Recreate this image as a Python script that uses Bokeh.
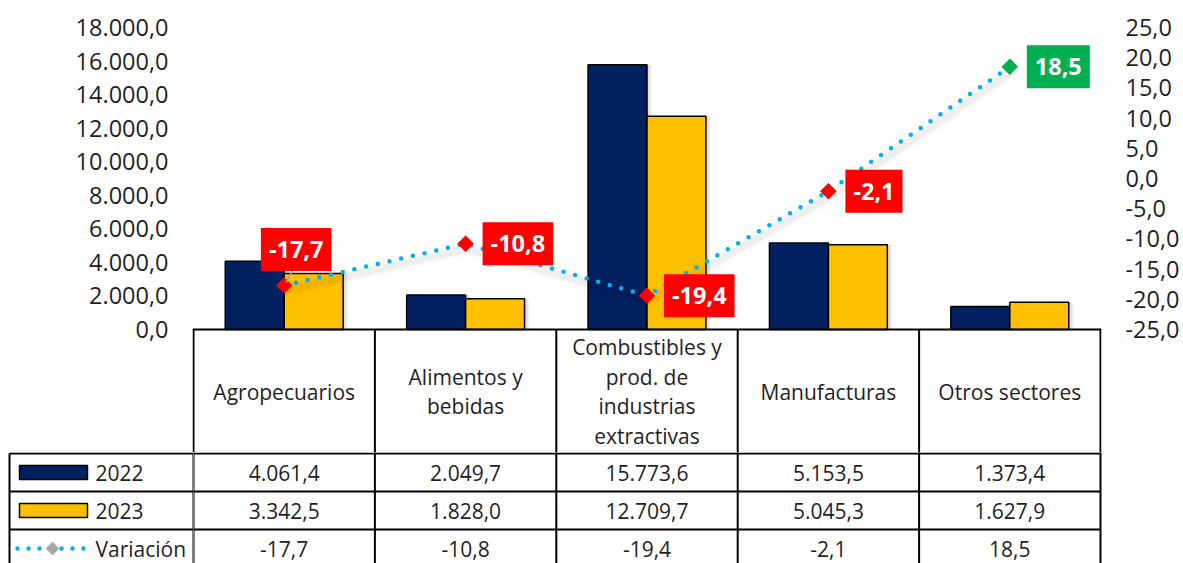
import numpy as np
from bokeh.plotting import figure
from bokeh.models import Range1d, LinearAxis, FixedTicker, Label, Span
from bokeh.layouts import column, row
from bokeh.embed import file_html
from bokeh.resources import INLINE
from bokeh.core.properties import value

# ---------------- data ----------------
categories = ["Agropecuarios", "Alimentos y\nbebidas",
              "Combustibles y\nprod. de\nindustrias\nextractivas",
              "Manufacturas", "Otros sectores"]
values_2022 = [4061.4, 2049.7, 15773.6, 5153.5, 1373.4]
values_2023 = [3342.5, 1828.0, 12709.7, 5045.3, 1627.9]
variacion = [-17.7, -10.8, -19.4, -2.1, 18.5]
series_names = ["2022", "2023", "Variación"]
left_ticks = list(range(0, 18001, 2000))
right_ticks = list(range(-25, 26, 5))


def fmt(v, d=1):
    s = f"{abs(v):,.{d}f}".replace(",", "X").replace(".", ",").replace("X", ".")
    return ("-" if v < 0 else "") + s


# ---------------- style / layout ----------------
NAVY = "#002060"
GOLD = "#FFC000"
BLUE = "#00B0F0"
RED = "#FF0000"
GREEN = "#00B050"
TXT = "#1f1f1f"
FONT = "Open Sans"

W, H = 1183, 563
FL, FR, FT, FB = 193, 1100, 27, 329        # value area in page pixels
N = len(categories)
UNIT = (FR - FL) / N                         # px per category
HP = 452                                     # top figure: chart + header row
H2 = H - HP
LEFT_MAX = 18000
VAR_LO, VAR_HI = -25, 25
PX_L = (FB - FT) / LEFT_MAX
PX_VAR = (FB - FT) / (VAR_HI - VAR_LO)


def yl(sy):           # page pixel -> left-axis value
    return (FB - sy) / PX_L


def yv(sy):           # page pixel -> right-axis value
    return VAR_LO + (FB - sy) / PX_VAR


xc = np.arange(N) + 0.5
bar_w = 0.325

p = figure(width=W, height=HP, x_range=Range1d(-1 / UNIT, N + 1 / UNIT),
           y_range=Range1d(yl(HP), LEFT_MAX),
           output_backend="svg", toolbar_location=None,
           x_axis_type=None, y_axis_type=None,
           min_border_left=FL - 1, min_border_right=W - FR - 1,
           min_border_top=FT, min_border_bottom=0)
p.outline_line_color = None
p.background_fill_color = "white"
p.border_fill_color = "white"
p.extra_y_ranges = {"var": Range1d(yv(HP), VAR_HI)}

for rng, ticks, side, so in ((None, left_ticks, "left", 18), ("var", right_ticks, "right", 18)):
    ax = LinearAxis(ticker=FixedTicker(ticks=ticks),
                    major_label_overrides={t: fmt(t) for t in ticks})
    if rng:
        ax.y_range_name = rng
    ax.axis_line_color = None
    ax.major_tick_line_color = None
    ax.minor_tick_line_color = None
    ax.major_label_text_font = FONT
    ax.major_label_text_font_size = "23.5px"
    ax.major_label_text_color = TXT
    ax.major_label_standoff = so
    p.add_layout(ax, side)

# soft shadows for bars
sdx = 3 / UNIT
for k, a in ((0, 0.05), (1, 0.04), (2, 0.03)):
    grow = 2 * k / UNIT
    p.vbar(x=xc - bar_w / 2 + sdx, top=values_2022, width=bar_w + grow,
           fill_color="black", fill_alpha=a, line_color=None)
    p.vbar(x=xc + bar_w / 2 + sdx, top=values_2023, width=bar_w + grow,
           fill_color="black", fill_alpha=a, line_color=None)

p.vbar(x=xc - bar_w / 2, top=values_2022, width=bar_w, fill_color=NAVY,
       line_color="black", line_width=1.5)
p.vbar(x=xc + bar_w / 2, top=values_2023, width=bar_w, fill_color=GOLD,
       line_color="black", line_width=1.5)

# header row of the data table (category axis)
p.add_layout(Span(location=0, dimension="width", line_color="black", line_width=2))
p.segment(x0=list(range(N + 1)), y0=[0] * (N + 1), x1=list(range(N + 1)),
          y1=[yl(HP + 2)] * (N + 1), line_color="black", line_width=2)
p.text(x=xc, y=[yl(391)] * N, text=categories, text_align="center", text_baseline="middle",
       text_font=value(FONT), text_font_size="21px", text_color=TXT, text_line_height=1.07)

# shadow of the line
var = np.array(variacion)
for w, a in ((12, 0.025), (7, 0.04)):
    p.line(x=xc + 2 / UNIT, y=var - 5 / PX_VAR, y_range_name="var",
           line_color="black", line_alpha=a, line_width=w)

p.line(x=xc, y=var, y_range_name="var", line_color=BLUE, line_width=4.5,
       line_dash="0 12", line_cap="round")
mcol = [GREEN if v > 0 else RED for v in variacion]
p.scatter(x=xc, y=var, y_range_name="var", marker="square", angle=np.pi / 4,
          size=11, fill_color=mcol, line_color=mcol)

# data labels
for i, v in enumerate(variacion):
    col = GREEN if v > 0 else RED
    if i == 0:
        lab = Label(x=xc[i], y=v, y_range_name="var", text=fmt(v),
                    x_offset=12, y_offset=36, text_align="center", text_baseline="middle")
        p.segment(x0=[xc[i] + 2 / UNIT], y0=[v + 3 / PX_VAR],
                  x1=[xc[i] + 9 / UNIT], y1=[v + 16 / PX_VAR], y_range_name="var",
                  line_color="#A6A6A6", line_width=1.5)
    else:
        lab = Label(x=xc[i], y=v, y_range_name="var", text=fmt(v),
                    x_offset=17, y_offset=0, text_align="left", text_baseline="middle")
    lab.text_color = "white"
    lab.text_font = FONT
    lab.text_font_style = "bold"
    lab.text_font_size = "23.5px"
    lab.background_fill_color = col
    lab.padding = dict(left=8, right=8, top=13, bottom=13)
    p.add_layout(lab)


# ---------------- table body ----------------
def py(sy):
    return sy - HP


def mk(width, xr):
    f = figure(width=width, height=H2, x_range=xr, y_range=Range1d(H2, 0),
               output_backend="svg", toolbar_location=None,
               x_axis_type=None, y_axis_type=None, min_border=0)
    f.outline_line_color = None
    f.background_fill_color = "white"
    f.border_fill_color = "white"
    return f


L = mk(FL, Range1d(0, FL))                         # legend column, pixel x
T = mk(W - FL, Range1d(0, (W - FL) / UNIT))        # category columns

y_hdr, y_r1, y_r2 = py(453), py(491), py(529)
row_y = [py(472), py(510), py(548)]

T.segment(x0=list(range(N + 1)), y0=[-2] * (N + 1), x1=list(range(N + 1)), y1=[H2 + 2] * (N + 1),
          line_color="black", line_width=2)
T.segment(x0=[0] * 3, y0=[y_hdr, y_r1, y_r2], x1=[N] * 3, y1=[y_hdr, y_r1, y_r2],
          line_color="black", line_width=2)
L.segment(x0=[9, FL, 9, 9, 9], y0=[y_hdr, y_hdr, y_hdr, y_r1, y_r2],
          x1=[9, FL, FL + 1, FL + 1, FL + 1], y1=[H2 + 2, H2 + 2, y_hdr, y_r1, y_r2],
          line_color="black", line_width=2)

rows = [[fmt(v) for v in values_2022], [fmt(v) for v in values_2023],
        [fmt(v) for v in variacion]]
for ry, vals in zip(row_y, rows):
    T.text(x=xc, y=[ry] * N, text=vals, text_align="center", text_baseline="middle",
           text_font=value(FONT), text_font_size="21px", text_color=TXT)

# legend keys
L.rect(x=[53, 53], y=row_y[:2], width=68, height=14,
       fill_color=[NAVY, GOLD], line_color="black", line_width=1.5)
L.line(x=[17, 84], y=[row_y[2]] * 2, line_color=BLUE, line_width=4.5,
       line_dash="0 11", line_cap="round")
L.scatter(x=[52], y=[row_y[2]], marker="square", angle=np.pi / 4, size=9,
          fill_color="#A6A6A6", line_color="#A6A6A6")
L.text(x=[95] * 3, y=row_y, text=series_names, text_align="left", text_baseline="middle",
       text_font=value(FONT), text_font_size="21px", text_color=TXT)

layout = column(p, row(L, T, spacing=0), spacing=0)
open("out.html", "w").write(file_html(layout, INLINE))
